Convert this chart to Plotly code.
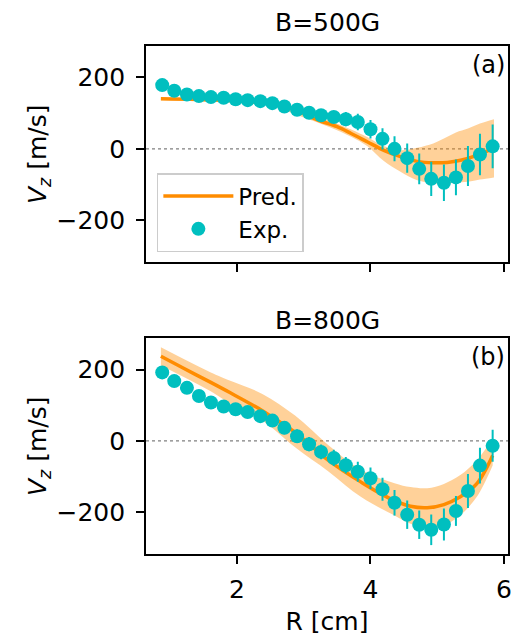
import plotly.graph_objects as go

# ---------------- data ----------------
R_exp = [0.88, 1.06, 1.25, 1.43, 1.61, 1.80, 1.98, 2.16, 2.35, 2.53, 2.71, 2.90, 3.08, 3.26,
         3.45, 3.63, 3.81, 4.00, 4.18, 4.36, 4.55, 4.73, 4.91, 5.10, 5.28, 5.46, 5.64, 5.83]

# B = 500 G
vz_exp_a = [178.5, 162.6, 152, 147.7, 144.9, 143, 139, 136.4, 133.6, 128, 118.7, 109.3, 101, 94,
            89, 83, 75, 55, 28, 0, -26, -56, -84, -95, -80, -48, -16, 7]
err_a = [6, 6, 6, 6, 6, 6, 6, 7, 7, 7, 8, 8, 10, 12,
         15, 20, 23, 26, 30, 35, 41, 43, 48, 51, 50, 56, 58, 61]
R_pred_a = [0.86, 1.4, 2.0, 2.5, 2.7, 2.9, 3.07, 3.22, 3.5, 3.71, 3.95, 4.2, 4.45, 4.7,
            4.94, 5.15, 5.35, 5.55, 5.7, 5.85]
vz_pred_a = [140, 138, 134, 126, 120, 109, 92, 80, 62, 43, 20, -4, -22, -35,
             -39, -38, -32, -21, -10, 2]
R_band_a = [0.86, 2.0, 2.5, 3.0, 3.4, 3.71, 3.95, 4.2, 4.45, 4.7, 4.94, 5.1, 5.28, 5.46, 5.64, 5.85]
up_a = [144, 138, 131, 102, 78, 54, 33, 8, -4, 3, 15, 29, 46, 57, 71, 83]
lo_a = [136, 130, 121, 88, 60, 34, 8, -34, -64, -88, -96, -97, -95, -92, -86, -80]

# B = 800 G
vz_exp_b = [192.5, 168, 149, 126, 108, 96.7, 89, 80.8, 69.5, 57, 36.6, 13, -9.4, -31,
            -48, -68.5, -87, -105, -136, -174, -207.5, -235.7, -250, -235, -197, -141, -69.5, -14]
err_b = [8, 8, 8, 8, 10, 12, 14, 15, 16, 17, 18, 19, 20, 21,
         23, 23, 28, 30, 32, 36, 40, 40, 43, 45, 42, 48, 50, 45]
R_pred_b = [0.86, 1.2, 1.6, 1.9, 2.38, 2.6, 2.87, 3.1, 3.37, 3.61, 3.86, 4.11, 4.36, 4.60,
            4.85, 5.10, 5.34, 5.59, 5.83]
vz_pred_b = [238, 204, 165, 135, 85, 58, 24, -12, -55, -86, -116, -144, -168, -184,
             -188, -179, -158, -121, -41]
R_band_b = [0.86, 1.6, 1.9, 2.38, 2.87, 3.37, 3.86, 4.36, 4.60, 4.85, 5.10, 5.34, 5.59, 5.83]
up_b = [263, 193, 169, 132, 71, -12, -81, -119, -130, -133, -121, -97, -55, 6]
lo_b = [212, 140, 104, 57, -18, -86, -158, -210, -233, -245, -238, -210, -158, -69]

titles = ["B=500G", "B=800G"]
panel_labels = ["(a)", "(b)"]
y_ticks = [-200, 0, 200]
x_ticks = [2, 4, 6]

# ---------------- style ----------------
FONT = "DejaVu Sans"
C_EXP = "#00BFBF"
C_PRED = "#FF8C00"
C_BAND = "rgba(255,140,0,0.4)"

fig = go.Figure()

panels = [
    (R_band_a, up_a, lo_a, R_pred_a, vz_pred_a, vz_exp_a, err_a),
    (R_band_b, up_b, lo_b, R_pred_b, vz_pred_b, vz_exp_b, err_b),
]
for i, (rb, up, lo, rp, vp, ve, ee) in enumerate(panels):
    xa = "x" if i == 0 else "x2"
    ya = "y" if i == 0 else "y2"
    fig.add_trace(go.Scatter(x=rb, y=lo, mode="lines", line=dict(width=0, shape="spline"),
                             xaxis=xa, yaxis=ya, showlegend=False, hoverinfo="skip"))
    fig.add_trace(go.Scatter(x=rb, y=up, mode="lines", line=dict(width=0, shape="spline"),
                             fill="tonexty", fillcolor=C_BAND,
                             xaxis=xa, yaxis=ya, showlegend=False, hoverinfo="skip"))
    fig.add_trace(go.Scatter(x=rp, y=vp, mode="lines", name="Pred.",
                             line=dict(color=C_PRED, width=3.5, shape="spline"),
                             xaxis=xa, yaxis=ya, showlegend=(i == 0)))
    fig.add_trace(go.Scatter(x=R_exp, y=ve, mode="markers", name="Exp.",
                             marker=dict(color=C_EXP, size=14),
                             error_y=dict(type="data", array=ee, visible=True,
                                          color=C_EXP, thickness=2, width=0),
                             xaxis=xa, yaxis=ya, showlegend=(i == 0)))

axis_common = dict(showline=True, linecolor="black", linewidth=1.6, mirror=True,
                   ticks="outside", ticklen=8, tickwidth=1.6, tickcolor="black",
                   showgrid=False, zeroline=False,
                   tickfont=dict(family=FONT, size=25, color="black"))

fig.update_layout(
    width=519, height=642,
    margin=dict(l=146, r=7, t=46, b=88),
    paper_bgcolor="white", plot_bgcolor="white",
    font=dict(family=FONT, color="black"),
    xaxis=dict(domain=[0, 1], range=[0.637, 6.06], tickvals=x_ticks, showticklabels=False,
               anchor="y", **axis_common),
    yaxis=dict(domain=[0.574, 1], range=[-318, 288], tickvals=y_ticks, anchor="x",
               ticklabelstandoff=6,
               title=dict(text="<i>V</i><sub><i>z</i></sub> [m/s]", font=dict(family=FONT, size=25),
                          standoff=3),
               **axis_common),
    xaxis2=dict(domain=[0, 1], range=[0.637, 6.06], tickvals=x_ticks, anchor="y2",
                ticklabelstandoff=4,
                title=dict(text="R [cm]", font=dict(family=FONT, size=25), standoff=10),
                **axis_common),
    yaxis2=dict(domain=[0, 0.4244], range=[-318, 288], tickvals=y_ticks, anchor="x2",
                ticklabelstandoff=6,
                title=dict(text="<i>V</i><sub><i>z</i></sub> [m/s]", font=dict(family=FONT, size=25),
                           standoff=3),
                **axis_common),
    legend=dict(x=0.03, y=0.75, xanchor="left", yanchor="top", traceorder="normal",
                itemwidth=70, tracegroupgap=0,
                bgcolor="rgba(255,255,255,0.8)", bordercolor="#cccccc", borderwidth=1.5,
                font=dict(family=FONT, size=23)),
    showlegend=True,
)

# zero reference lines
for xr, yr in [("x", "y"), ("x2", "y2")]:
    fig.add_shape(type="line", xref=f"{xr} domain", yref=yr, x0=0, x1=1, y0=0, y1=0,
                  line=dict(color="grey", width=1.2, dash="dot"), layer="below")

# titles and panel labels
for txt, yp in zip(titles, [1.0466, 0.4604]):
    fig.add_annotation(text=txt, xref="paper", yref="paper", x=0.5, y=yp,
                       xanchor="center", yanchor="middle", showarrow=False,
                       font=dict(family=FONT, size=25))
for txt, yp in zip(panel_labels, [0.962, 0.388]):
    fig.add_annotation(text=txt, xref="paper", yref="paper", x=0.998, y=yp,
                       xanchor="right", yanchor="middle", showarrow=False,
                       font=dict(family=FONT, size=24))

fig.write_html("out.html", config={"displayModeBar": False},
               post_script="document.body.style.margin='0';document.body.style.padding='0';")
